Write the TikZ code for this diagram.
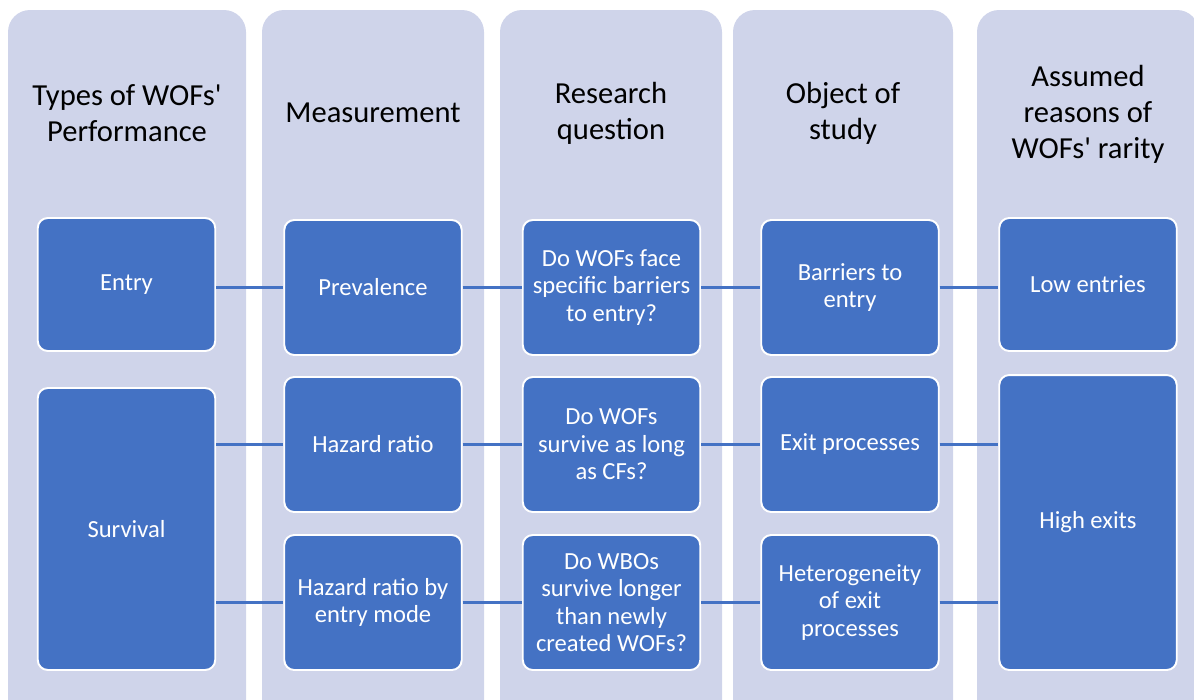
\documentclass[tikz,border=0pt]{standalone}
\usepackage{fontspec}
\setmainfont{Carlito}
\usepackage{tikz}
\usetikzlibrary{positioning}

\definecolor{lavender}{RGB}{207,212,234}
\definecolor{boxblue}{RGB}{68,114,196}

\tikzset{
  col/.style={fill=lavender, rounded corners=0.44cm},
  head/.style={align=center, text=black, font=\fontsize{17.4}{20.5}\selectfont},
  blk/.style={draw=white, line width=1.1pt, fill=boxblue, rounded corners=0.2cm,
    text=white, align=center, inner sep=0pt, minimum width=3.55cm, minimum height=2.7cm,
    font=\fontsize{14}{15.6}\selectfont},
  link/.style={draw=boxblue, line width=1.7pt}
}

\begin{document}
\begin{tikzpicture}[x=0.02cm, y=-0.02cm]
\path[use as bounding box, clip] (0,0) rectangle (1194,700);
% column backgrounds
\fill[col] (8,10) rectangle (246,730);
\fill[col] (262,10) rectangle (484,730);
\fill[col] (500,10) rectangle (722,730);
\fill[col] (733,10) rectangle (953,730);
\fill[col] (977,10) rectangle (1199,730);
% headings
\node[head] (h1) at (127,113) {Types of WOFs\textquotesingle\\Performance};
\node[head] (h2) at (373,113) {Measurement};
\node[head] (h3) at (611,113) {Research\\question};
\node[head] (h4) at (843,113) {Object of\\study};
\node[head] (h5) at (1088,114) {Assumed\\reasons of\\WOFs\textquotesingle{} rarity};
% boxes
\node[blk, minimum height=2.66cm] (entry) at (126.5,284.5) {Entry};
\node[blk, minimum height=5.64cm] (surv) at (126.5,529) {Survival};
\node[blk] (prev) at (373,287.5) {Prevalence};
\node[blk] (hr) at (373,444.5) {Hazard ratio};
\node[blk] (hrmode) at (373,602.5) {Hazard ratio by\\entry mode};
\node[blk] (q1) at (611.5,287.5) {Do WOFs face\\specific barriers\\to entry?};
\node[blk] (q2) at (611.5,444.5) {Do WOFs\\survive as long\\as CFs?};
\node[blk] (q3) at (611.5,602.5) {Do WBOs\\survive longer\\than newly\\created WOFs?};
\node[blk] (barr) at (850,287.5) {Barriers to\\entry};
\node[blk] (exit) at (850,444.5) {Exit processes};
\node[blk] (het) at (850,602.5) {Heterogeneity\\of exit\\processes};
\node[blk, minimum height=2.66cm] (low) at (1088,284.5) {Low entries};
\node[blk, minimum height=5.9cm] (high) at (1088,522.5) {High exits};
% connectors
\draw[link] (entry.east |- prev.west) -- (prev.west);
\draw[link] (prev) -- (q1);
\draw[link] (q1) -- (barr);
\draw[link] (barr.east) -- (barr.east -| low.west);
\draw[link] (surv.east |- hr.west) -- (hr.west);
\draw[link] (hr) -- (q2);
\draw[link] (q2) -- (exit);
\draw[link] (exit.east) -- (exit.east -| high.west);
\draw[link] (surv.east |- hrmode.west) -- (hrmode.west);
\draw[link] (hrmode) -- (q3);
\draw[link] (q3) -- (het);
\draw[link] (het.east) -- (het.east -| high.west);
\end{tikzpicture}
\end{document}
